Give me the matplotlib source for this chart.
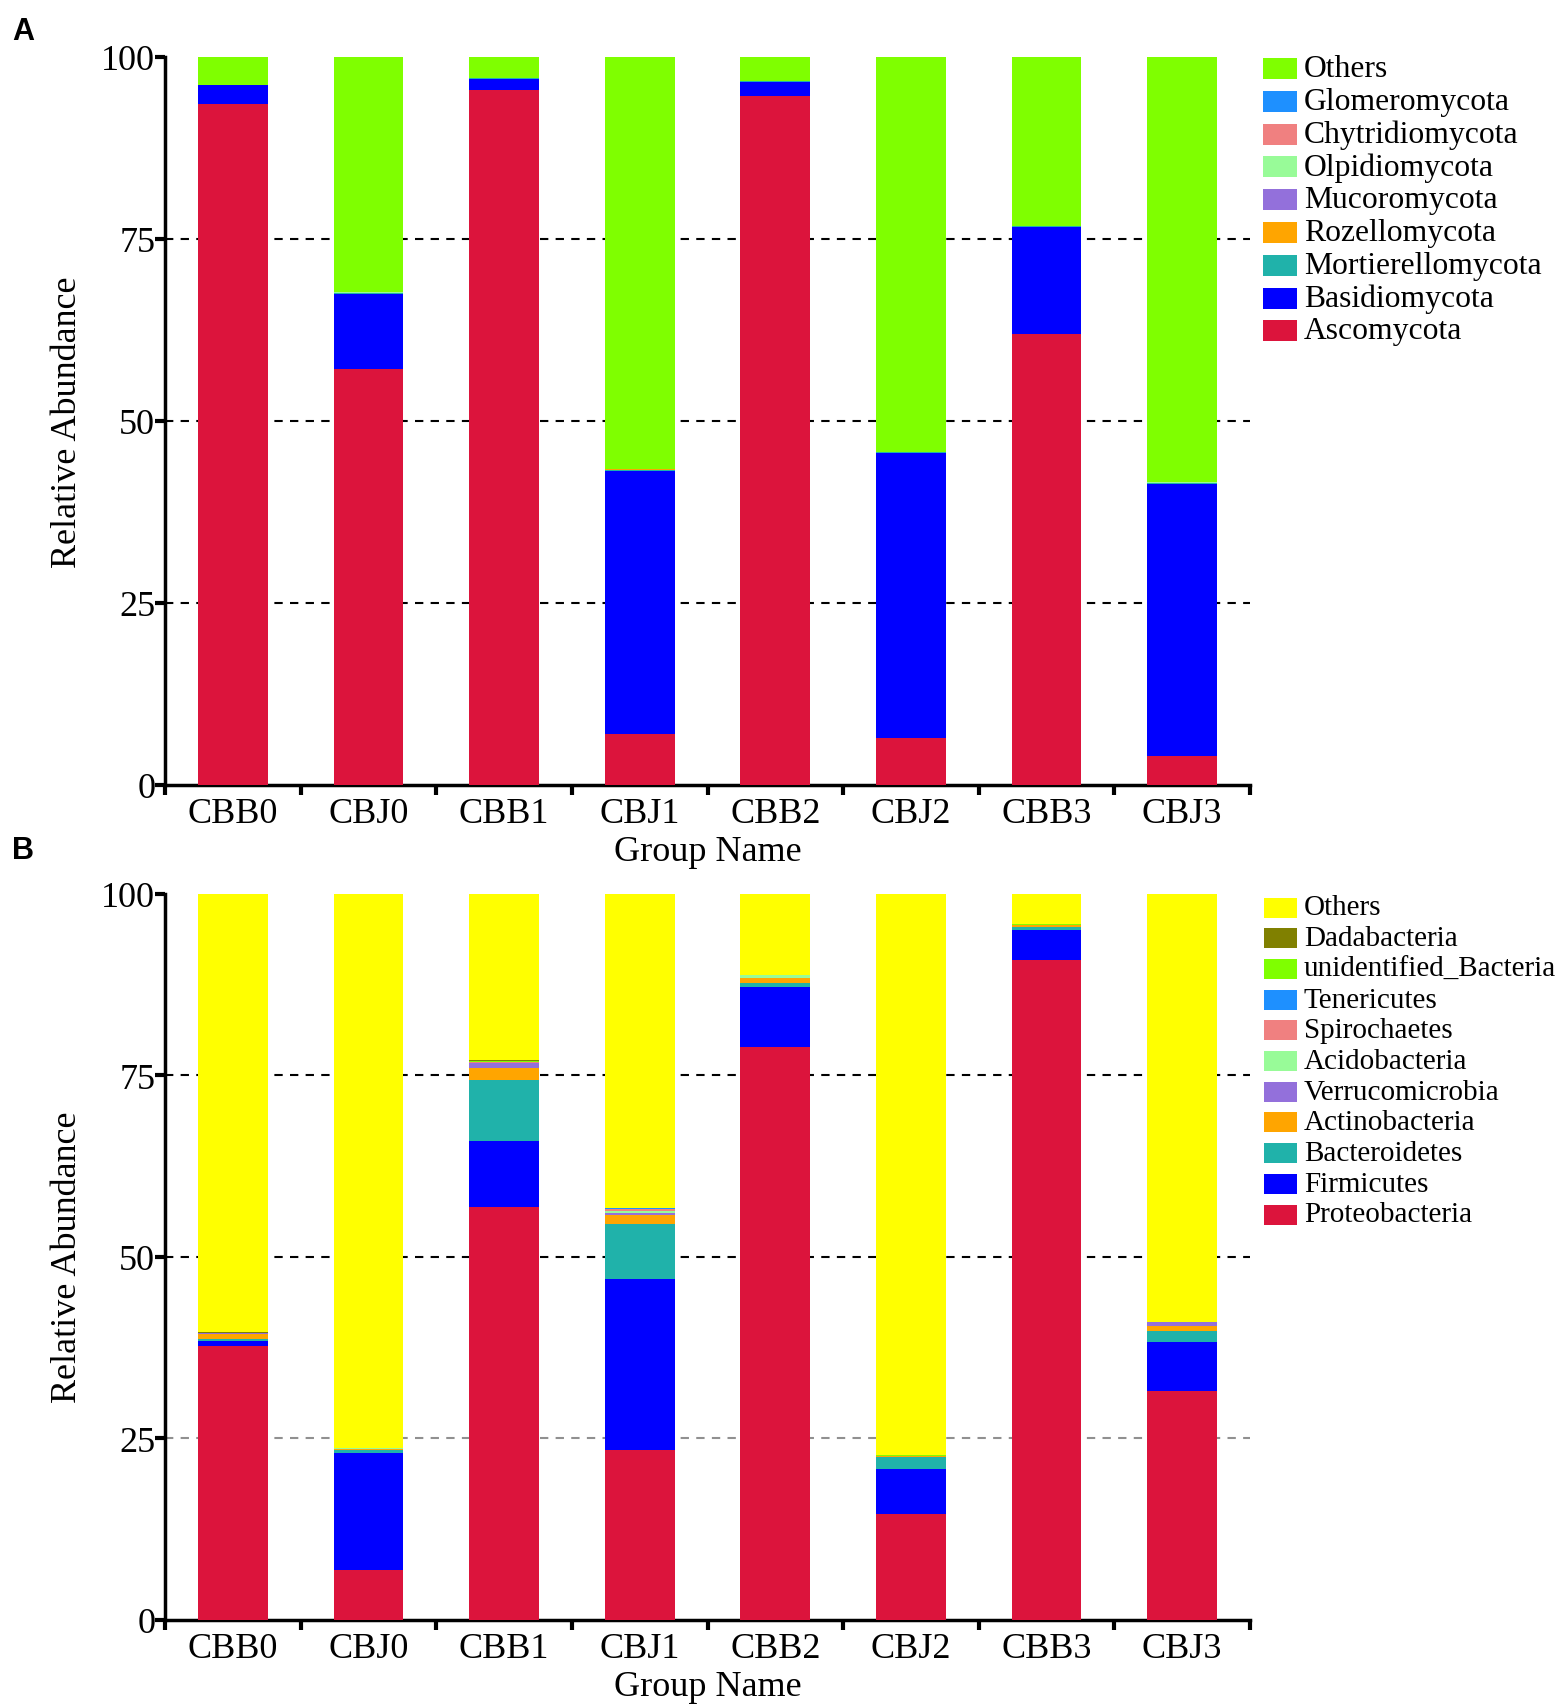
import numpy as np
import matplotlib
matplotlib.use("Agg")
import matplotlib.pyplot as plt
from matplotlib.patches import Rectangle

W, H = 1562, 1708

groups = ["CBB0", "CBJ0", "CBB1", "CBJ1", "CBB2", "CBJ2", "CBB3", "CBJ3"]

# ---- panel A: fungal phyla (bottom -> top of each stack)
fungi_names = ["Ascomycota", "Basidiomycota", "Mortierellomycota", "Rozellomycota",
               "Mucoromycota", "Olpidiomycota", "Chytridiomycota", "Glomeromycota", "Others"]
fungi_colors = ["#DC143C", "#0000FF", "#20B2AA", "#FFA500",
                "#9370DB", "#98FB98", "#F08080", "#1E90FF", "#7FFF00"]
ascomycota        = [93.5, 57.1, 95.4, 7.0, 94.6, 6.4, 62.0, 4.0]
basidiomycota     = [2.6, 10.4, 1.6, 36.2, 2.0, 39.2, 14.7, 37.4]
mortierellomycota = [0.05, 0.1, 0.05, 0.1, 0.05, 0.1, 0.05, 0.1]
rozellomycota     = [0.02, 0.03, 0.02, 0.05, 0.02, 0.03, 0.02, 0.03]
mucoromycota      = [0.01, 0.02, 0.01, 0.02, 0.01, 0.02, 0.01, 0.02]
olpidiomycota     = [0.01, 0.01, 0.01, 0.01, 0.01, 0.01, 0.01, 0.01]
chytridiomycota   = [0.01, 0.02, 0.01, 0.02, 0.01, 0.02, 0.01, 0.02]
glomeromycota     = [0.02, 0.05, 0.05, 0.03, 0.02, 0.03, 0.02, 0.03]
fungi_others      = [3.78, 32.27, 2.85, 56.57, 3.28, 54.19, 23.18, 58.39]

# ---- panel B: bacterial phyla
bact_names = ["Proteobacteria", "Firmicutes", "Bacteroidetes", "Actinobacteria",
              "Verrucomicrobia", "Acidobacteria", "Spirochaetes", "Tenericutes",
              "unidentified_Bacteria", "Dadabacteria", "Others"]
bact_colors = ["#DC143C", "#0000FF", "#20B2AA", "#FFA500", "#9370DB", "#98FB98",
               "#F08080", "#1E90FF", "#7FFF00", "#808000", "#FFFF00"]
proteobacteria  = [37.7, 6.8, 56.9, 23.4, 78.9, 14.5, 90.9, 31.45]
firmicutes      = [0.64, 16.2, 9.1, 23.5, 8.35, 6.2, 4.15, 6.75]
bacteroidetes   = [0.32, 0.3, 8.4, 7.6, 0.55, 1.75, 0.4, 1.5]
actinobacteria  = [0.64, 0.2, 1.6, 1.27, 0.6, 0.05, 0.25, 0.8]
verrucomicrobia = [0.15, 0.05, 0.65, 0.3, 0.05, 0.02, 0.03, 0.46]
acidobacteria   = [0.03, 0.02, 0.1, 0.2, 0.35, 0.02, 0.02, 0.03]
spirochaetes    = [0.02, 0.02, 0.05, 0.25, 0.03, 0.01, 0.01, 0.02]
tenericutes     = [0.03, 0.03, 0.1, 0.15, 0.03, 0.02, 0.02, 0.03]
unident_bact    = [0.02, 0.02, 0.15, 0.05, 0.02, 0.1, 0.02, 0.02]
dadabacteria    = [0.01, 0.01, 0.02, 0.02, 0.01, 0.01, 0.01, 0.01]
bact_others     = [60.44, 76.35, 22.93, 43.26, 11.11, 77.32, 4.19, 58.93]

fungi_data = [ascomycota, basidiomycota, mortierellomycota, rozellomycota, mucoromycota,
              olpidiomycota, chytridiomycota, glomeromycota, fungi_others]
bact_data = [proteobacteria, firmicutes, bacteroidetes, actinobacteria, verrucomicrobia,
             acidobacteria, spirochaetes, tenericutes, unident_bact, dadabacteria, bact_others]

SERIF = ["Liberation Serif", "DejaVu Serif"]


def fx(px):
    return px / W


def fy(py):
    return 1 - py / H


def stacked_panel(ax, data, names, colors, grid_colors, xlab_y):
    x = np.arange(len(groups)) + 0.5
    bottom = np.zeros(len(groups))
    for vals, name, col in zip(data, names, colors):
        ax.bar(x, vals, width=0.515, bottom=bottom, color=col, linewidth=0, zorder=3)
        bottom += np.array(vals)

    for yv, gc in zip([25, 50, 75], grid_colors):
        ax.axhline(yv, color=gc, lw=1.5, ls=(0, (4, 3.5)), zorder=1)

    ax.set_xlim(0, len(groups))
    ax.set_ylim(0, 100)
    for s in ["top", "right"]:
        ax.spines[s].set_visible(False)
    for s in ["left", "bottom"]:
        ax.spines[s].set_linewidth(2.5)

    ax.set_yticks([0, 25, 50, 75, 100])
    ax.set_yticklabels(["0", "25", "50", "75", "100"], fontfamily=SERIF, fontsize=26)
    ax.tick_params(axis="y", length=7, width=3, pad=0)

    ax.set_xticks(np.arange(len(groups) + 1))
    ax.set_xticklabels([])
    ax.tick_params(axis="x", which="major", length=7, width=3)
    ax.set_xticks(x, minor=True)
    ax.set_xticklabels(groups, minor=True, fontfamily=SERIF, fontsize=26)
    ax.tick_params(axis="x", which="minor", length=0, pad=9)

    ax.set_xlabel("Group Name", fontfamily=SERIF, fontsize=26)
    ax.xaxis.set_label_coords(0.5, xlab_y)
    ax.set_ylabel("Relative Abundance", fontfamily=SERIF, fontsize=26)
    ax.yaxis.set_label_coords(-0.075, 0.5)


def legend_block(fig, names, colors, x0, y_first, step, pw, ph, fsize):
    # drawn top -> bottom, reverse of stack order
    for i, (name, col) in enumerate(zip(names[::-1], colors[::-1])):
        yc = y_first + i * step
        fig.patches.append(Rectangle((fx(x0), fy(yc + ph / 2)), pw / W, ph / H,
                                     transform=fig.transFigure, color=col, lw=0))
        fig.text(fx(x0 + pw + 7), fy(yc), name, fontfamily=SERIF, fontsize=fsize,
                 va="center", ha="left")


fig = plt.figure(figsize=(W / 100, H / 100), dpi=100)

axA = fig.add_axes([fx(165), fy(786), (1250 - 165) / W, (786 - 58) / H])
stacked_panel(axA, fungi_data, fungi_names, fungi_colors, ["black", "black", "black"], -0.068)
legend_block(fig, fungi_names, fungi_colors, 1263, 69.5, 32.8, 34, 21, 22.8)

axB = fig.add_axes([fx(165), fy(1620.5), (1250 - 165) / W, (1620.5 - 895) / H])
stacked_panel(axB, bact_data, bact_names, bact_colors, ["#909090", "black", "black"], -0.07)
legend_block(fig, bact_names, bact_colors, 1264, 908.5, 30.7, 33, 20, 21)

fig.text(fx(12), fy(17), "A", fontfamily=["Liberation Sans", "DejaVu Sans"],
         fontweight="bold", fontsize=22, va="top", ha="left")
fig.text(fx(12), fy(836), "B", fontfamily=["Liberation Sans", "DejaVu Sans"],
         fontweight="bold", fontsize=22, va="top", ha="left")

fig.savefig("out.png", dpi=100)
print("Saved out.png")
